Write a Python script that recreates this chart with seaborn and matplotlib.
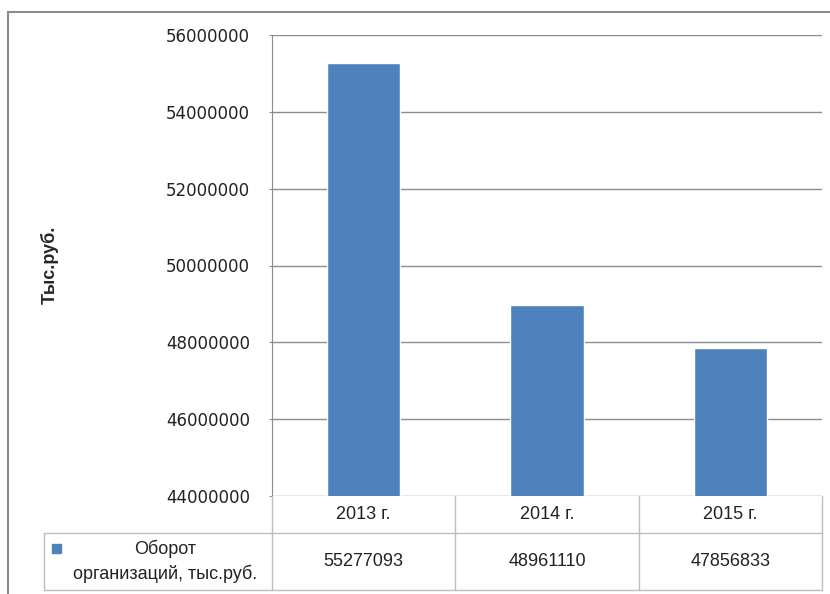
import numpy as np
import matplotlib
matplotlib.use("Agg")
import matplotlib.pyplot as plt
import seaborn as sns
import pandas as pd
from matplotlib.lines import Line2D
from matplotlib.patches import Rectangle

# данные
years = ["2013 г.", "2014 г.", "2015 г."]
turnover = [55277093, 48961110, 47856833]
series_name = "Оборот\nорганизаций, тыс.руб."
y_ticks = [44000000, 46000000, 48000000, 50000000, 52000000, 54000000, 56000000]

df = pd.DataFrame({"year": years, "value": turnover})

sns.set_style("white")
plt.rcParams["font.family"] = ["Liberation Sans", "DejaVu Sans"]

W, H = 830, 594
fig = plt.figure(figsize=(W / 100, H / 100), dpi=100)

def fx(px):
    return px / W

def fy(py):
    return 1 - py / H

# рамка графика
fig.patches.append(Rectangle((fx(8), fy(600)), fx(840) - fx(8), fy(12) - fy(600),
                             transform=fig.transFigure, fill=False,
                             edgecolor="#8c8c8c", linewidth=1.5, clip_on=False))

left, right, top, bottom = 272, 822, 35, 496
ax = fig.add_axes([fx(left), fy(bottom), fx(right) - fx(left), fy(top) - fy(bottom)])

sns.barplot(data=df, x="year", y="value", color="#4F81BD", width=0.4, ax=ax,
            saturation=1)
ax.set_ylim(y_ticks[0], y_ticks[-1])
ax.set_yticks(y_ticks)
ax.set_yticklabels([str(t) for t in y_ticks], fontsize=12, color="#222222",
                   family="DejaVu Sans")
ax.set_xticks([])
ax.set_xlabel("")
ax.set_ylabel("")
ax.yaxis.grid(True, color="#8c8c8c", linewidth=1)
ax.set_axisbelow(True)
ax.tick_params(axis="y", length=2, color="#8c8c8c", pad=14, left=True)
for s in ["top", "right", "bottom"]:
    ax.spines[s].set_visible(False)
ax.spines["left"].set_color("#8c8c8c")

fig.text(fx(50), fy(265), "Тыс.руб.", rotation=90, ha="center", va="center",
         fontsize=13, fontweight="bold")

# таблица данных
line_c = "#bdbdbd"
cols = [272, 455, 639, 822]
row1, row2, row3 = 496, 533, 590

def hline(y, x0, x1):
    fig.add_artist(Line2D([fx(x0), fx(x1)], [fy(y), fy(y)], color=line_c, linewidth=1))

def vline(x, y0, y1):
    fig.add_artist(Line2D([fx(x), fx(x)], [fy(y0), fy(y1)], color=line_c, linewidth=1))

hline(row2, 44, 822)
hline(row3, 44, 822)
for c in cols:
    vline(c, row1, row3)
vline(44, row2, row3)

for i, (yr, val) in enumerate(zip(years, turnover)):
    cx = (cols[i] + cols[i + 1]) / 2
    fig.text(fx(cx), fy((row1 + row2) / 2), yr, ha="center", va="center",
             fontsize=13, color="#222222")
    fig.text(fx(cx), fy((row2 + row3) / 2), str(val), ha="center", va="center",
             fontsize=13, color="#222222")

fig.patches.append(Rectangle((fx(52), fy(553)), fx(61) - fx(52), fy(544) - fy(553),
                             transform=fig.transFigure, color="#4F81BD"))
fig.text(fx(165), fy((row2 + row3) / 2), series_name, ha="center", va="center",
         fontsize=13, color="#222222", linespacing=1.45)

fig.savefig("out.png", dpi=100)
